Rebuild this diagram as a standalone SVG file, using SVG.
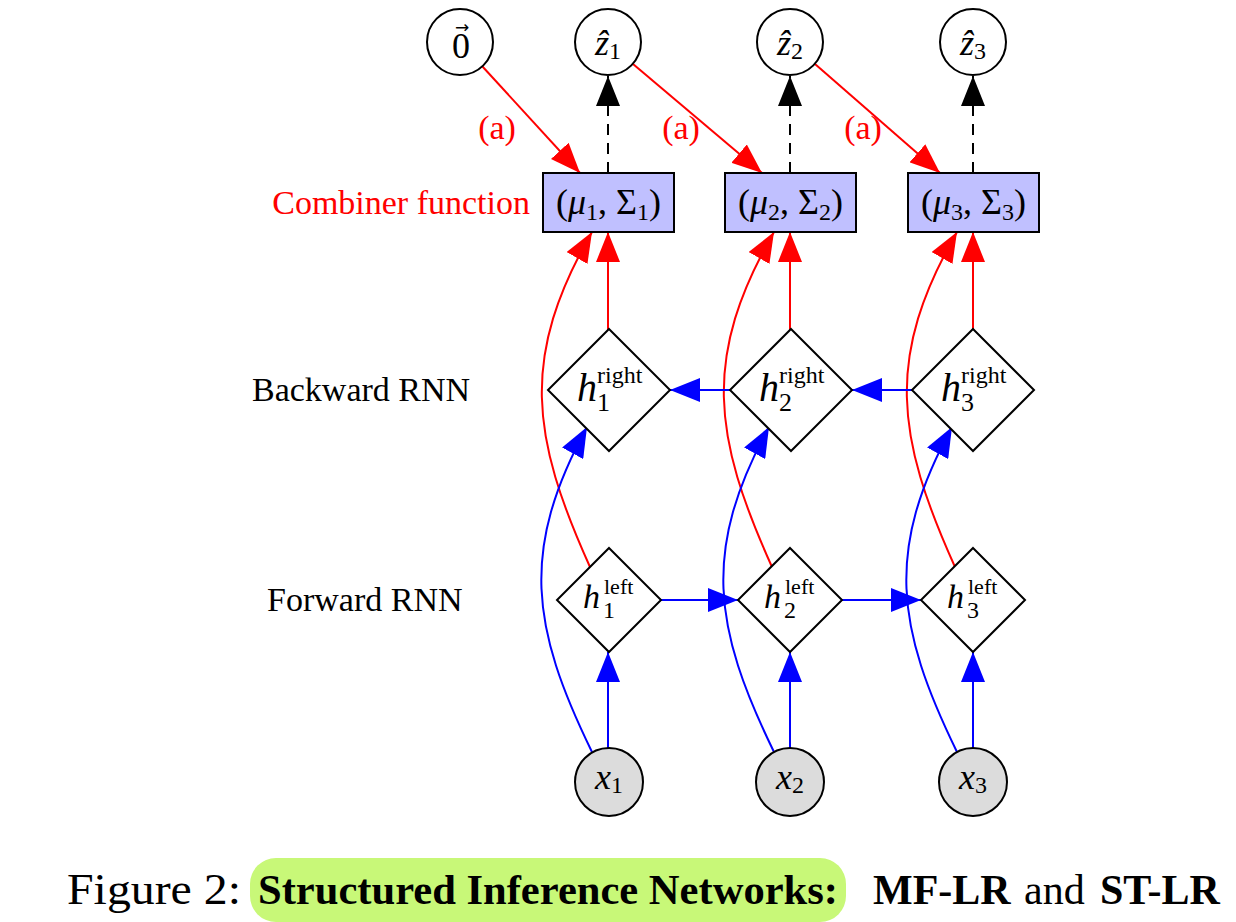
<svg xmlns="http://www.w3.org/2000/svg" width="1236" height="922" viewBox="0 0 1236 922">
<style>
text{font-family:"Liberation Serif","DejaVu Serif",serif;}
.m{font-size:36px;}
.i{font-style:italic;}
.nd{fill:#fff;stroke:#000;stroke-width:2;}
.obs{fill:#dcdcdc;stroke:#000;stroke-width:2;}
.box{fill:#c0c0ff;stroke:#000;stroke-width:2;}
.r{stroke:#f00;stroke-width:2;fill:none;}
.b{stroke:#00f;stroke-width:2;fill:none;}
.k{stroke:#000;stroke-width:2;fill:none;stroke-dasharray:11 8;}
.lbl{font-size:34px;}
.red{fill:#f00;}
</style>
<defs>
<marker id="ar" viewBox="0 0 30 24" markerUnits="userSpaceOnUse" markerWidth="30" markerHeight="24" refX="30" refY="12" orient="auto"><path d="M0,0L30,12L0,24z" fill="#f00"/></marker>
<marker id="ab" viewBox="0 0 30 24" markerUnits="userSpaceOnUse" markerWidth="30" markerHeight="24" refX="30" refY="12" orient="auto"><path d="M0,0L30,12L0,24z" fill="#00f"/></marker>
<marker id="ak" viewBox="0 0 30 24" markerUnits="userSpaceOnUse" markerWidth="30" markerHeight="24" refX="30" refY="12" orient="auto"><path d="M0,0L30,12L0,24z" fill="#000"/></marker>
</defs>
<rect width="1236" height="922" fill="#fff"/>

<g id="connectors">
<path class="r" d="M482,66L580,173" marker-end="url(#ar)"/>
<path class="r" d="M633,64L762,173" marker-end="url(#ar)"/>
<path class="r" d="M815,64L940,173" marker-end="url(#ar)"/>
<path class="k" d="M608,173V76" marker-end="url(#ak)"/>
<path class="k" d="M790,173V76" marker-end="url(#ak)"/>
<path class="k" d="M973,173V76" marker-end="url(#ak)"/>
<path class="r" d="M608,330V232" marker-end="url(#ar)"/>
<path class="r" d="M790,330V232" marker-end="url(#ar)"/>
<path class="r" d="M973,330V232" marker-end="url(#ar)"/>
<path class="r" d="M590,567C531,436 520,357 592,232" marker-end="url(#ar)"/>
<path class="r" d="M772,567C713,436 702,357 774,232" marker-end="url(#ar)"/>
<path class="r" d="M955,567C896,436 885,357 957,232" marker-end="url(#ar)"/>
<path class="b" d="M592,752C531,627 520,550 587,427" marker-end="url(#ab)"/>
<path class="b" d="M774,752C713,627 702,550 769,427" marker-end="url(#ab)"/>
<path class="b" d="M957,752C896,627 885,550 952,427" marker-end="url(#ab)"/>
<path class="b" d="M608,748V652" marker-end="url(#ab)"/>
<path class="b" d="M790,748V652" marker-end="url(#ab)"/>
<path class="b" d="M973,748V652" marker-end="url(#ab)"/>
<path class="b" d="M661,600H738" marker-end="url(#ab)"/>
<path class="b" d="M842,600H921" marker-end="url(#ab)"/>
<path class="b" d="M730,390H670" marker-end="url(#ab)"/>
<path class="b" d="M912,390H852" marker-end="url(#ab)"/>
</g>

<g id="label-a">
<text class="lbl red" x="497" y="139" text-anchor="middle">(a)</text>
<text class="lbl red" x="681" y="139" text-anchor="middle">(a)</text>
<text class="lbl red" x="863" y="139" text-anchor="middle">(a)</text>
</g>
<g id="label-combiner"><text class="lbl red" x="530" y="214" text-anchor="end">Combiner function</text></g>
<g id="label-backward"><text class="lbl" x="252" y="401">Backward RNN</text></g>
<g id="label-forward"><text class="lbl" x="267" y="611">Forward RNN</text></g>

<g id="node-zero">
<circle class="nd" cx="460" cy="42" r="33"/>
<text class="m" x="461" y="58" text-anchor="middle">0<tspan x="462" y="33" font-size="17" font-family="DejaVu Sans">→</tspan></text>
</g>
<g id="node-z1">
<circle class="nd" cx="608" cy="42" r="33"/>
<text class="m" x="608" y="55" text-anchor="middle"><tspan class="i">ẑ</tspan><tspan font-size="24" dy="4">1</tspan></text>
</g>
<g id="node-z2">
<circle class="nd" cx="790" cy="42" r="33"/>
<text class="m" x="790" y="55" text-anchor="middle"><tspan class="i">ẑ</tspan><tspan font-size="24" dy="4">2</tspan></text>
</g>
<g id="node-z3">
<circle class="nd" cx="973" cy="42" r="33"/>
<text class="m" x="973" y="55" text-anchor="middle"><tspan class="i">ẑ</tspan><tspan font-size="24" dy="4">3</tspan></text>
</g>

<g id="node-c1">
<rect class="box" x="543" y="173" width="131" height="59"/>
<text class="m" x="608.5" y="214" text-anchor="middle">(<tspan class="i">μ</tspan><tspan font-size="24" dy="6">1</tspan><tspan dy="-6">, Σ</tspan><tspan font-size="24" dy="6">1</tspan><tspan dy="-6">)</tspan></text>
</g>
<g id="node-c2">
<rect class="box" x="725" y="173" width="131" height="59"/>
<text class="m" x="790.5" y="214" text-anchor="middle">(<tspan class="i">μ</tspan><tspan font-size="24" dy="6">2</tspan><tspan dy="-6">, Σ</tspan><tspan font-size="24" dy="6">2</tspan><tspan dy="-6">)</tspan></text>
</g>
<g id="node-c3">
<rect class="box" x="908" y="173" width="131" height="59"/>
<text class="m" x="973.5" y="214" text-anchor="middle">(<tspan class="i">μ</tspan><tspan font-size="24" dy="6">3</tspan><tspan dy="-6">, Σ</tspan><tspan font-size="24" dy="6">3</tspan><tspan dy="-6">)</tspan></text>
</g>

<g id="node-hr1">
<path class="nd" d="M609,329L670,390L609,451L548,390Z"/>
<text class="i" x="577" y="401" font-size="40">h</text>
<text x="597" y="383" font-size="24">right</text>
<text x="597" y="411" font-size="26">1</text>
</g>
<g id="node-hr2">
<path class="nd" d="M791,329L852,390L791,451L730,390Z"/>
<text class="i" x="759" y="401" font-size="40">h</text>
<text x="779" y="383" font-size="24">right</text>
<text x="779" y="411" font-size="26">2</text>
</g>
<g id="node-hr3">
<path class="nd" d="M973,329L1034,390L973,451L912,390Z"/>
<text class="i" x="941" y="401" font-size="40">h</text>
<text x="961" y="383" font-size="24">right</text>
<text x="961" y="411" font-size="26">3</text>
</g>

<g id="node-hl1">
<path class="nd" d="M609,548L661,600L609,652L557,600Z"/>
<text class="i" x="583" y="608" font-size="34">h</text>
<text x="604" y="594" font-size="22">left</text>
<text x="603" y="618" font-size="24">1</text>
</g>
<g id="node-hl2">
<path class="nd" d="M790,548L842,600L790,652L738,600Z"/>
<text class="i" x="764" y="608" font-size="34">h</text>
<text x="785" y="594" font-size="22">left</text>
<text x="784" y="618" font-size="24">2</text>
</g>
<g id="node-hl3">
<path class="nd" d="M973,548L1025,600L973,652L921,600Z"/>
<text class="i" x="947" y="608" font-size="34">h</text>
<text x="968" y="594" font-size="22">left</text>
<text x="967" y="618" font-size="24">3</text>
</g>

<g id="node-x1">
<circle class="obs" cx="609" cy="782" r="34"/>
<text class="m" x="609" y="789" text-anchor="middle"><tspan class="i">x</tspan><tspan font-size="24" dy="4">1</tspan></text>
</g>
<g id="node-x2">
<circle class="obs" cx="790" cy="782" r="34"/>
<text class="m" x="790" y="789" text-anchor="middle"><tspan class="i">x</tspan><tspan font-size="24" dy="4">2</tspan></text>
</g>
<g id="node-x3">
<circle class="obs" cx="973" cy="782" r="34"/>
<text class="m" x="973" y="789" text-anchor="middle"><tspan class="i">x</tspan><tspan font-size="24" dy="4">3</tspan></text>
</g>

<g id="caption">
<rect x="250" y="858" width="596" height="64" rx="26" fill="#c8f878"/>
<text x="67" y="904" font-size="45" textLength="174" lengthAdjust="spacingAndGlyphs">Figure 2:</text>
<text x="258" y="904" font-size="42" font-weight="bold" textLength="580" lengthAdjust="spacingAndGlyphs">Structured Inference Networks:</text>
<text x="873" y="904" font-size="42" font-weight="bold">MF-LR</text>
<text x="1024" y="904" font-size="42">and</text>
<text x="1100" y="904" font-size="42" font-weight="bold">ST-LR</text>
</g>
</svg>
